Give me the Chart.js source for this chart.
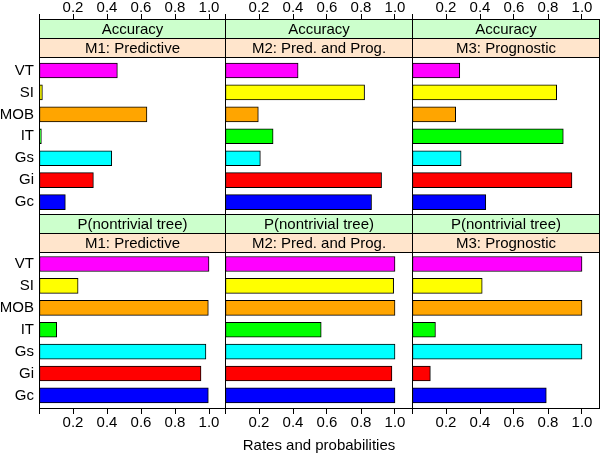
<!DOCTYPE html>
<html><head><meta charset="utf-8">
<script src="https://cdn.jsdelivr.net/npm/chart.js@4.4.1/dist/chart.umd.min.js"></script>
<style>
html,body{margin:0;padding:0;background:#fff;}
#wrap{position:relative;width:600px;height:453px;overflow:hidden;background:#fff;}
canvas{position:absolute;}
</style></head><body><div id="wrap"></div>
<script>
// ---------- data ----------
const categories = ['VT', 'SI', 'MOB', 'IT', 'Gs', 'Gi', 'Gc'];
const barColors = ['#FF00FF', '#FFFF00', '#FFA500', '#00FF00', '#00FFFF', '#FF0000', '#0000FF'];
const measureLabels = ['Accuracy', 'P(nontrivial tree)'];
const modelLabels = ['M1: Predictive', 'M2: Pred. and Prog.', 'M3: Prognostic'];

const accuracyM1 = [0.461, 0.020, 0.635, 0.014, 0.428, 0.320, 0.155];
const accuracyM2 = [0.430, 0.821, 0.196, 0.283, 0.208, 0.921, 0.862];
const accuracyM3 = [0.281, 0.851, 0.257, 0.890, 0.289, 0.941, 0.434];
const nontrivM1  = [1.000, 0.230, 0.996, 0.104, 0.982, 0.953, 0.996];
const nontrivM2  = [1.000, 0.992, 1.000, 0.566, 1.000, 0.982, 1.000];
const nontrivM3  = [1.000, 0.413, 1.000, 0.138, 1.000, 0.108, 0.790];

const tickValues = [0, 0.2, 0.4, 0.6, 0.8, 1.0];
const tickLabels = ['', '0.2', '0.4', '0.6', '0.8', '1.0'];
const axisTitle = 'Rates and probabilities';

const panelValues = [
  [accuracyM1, accuracyM2, accuracyM3],
  [nontrivM1, nontrivM2, nontrivM3]
];

// ---------- layout ----------
const FONT = '"Liberation Sans", Arial, sans-serif';
const colEdges = [39, 225, 412, 599];
const pxPerUnit = 170;
const stripH = 19;
const rows = [
  { canvasTop: 0,   canvasH: 215, axisPos: 'top',    axisH: 19, tickLH: 0.8, yMin: -1.35,  yMax: 7.59 },
  { canvasTop: 214, canvasH: 239, axisPos: 'bottom', axisH: 44, tickLH: 1.2, yMin: -1.283, yMax: 7.62 }
];

const panelPlugin = {
  id: 'panelStrips',
  beforeDatasetsDraw(chart, args, o) {
    const { ctx, chartArea: a } = chart;
    const w = a.right - a.left;
    ctx.save();
    ctx.fillStyle = '#CCFFCC';
    ctx.fillRect(a.left, a.top, w, stripH);
    ctx.fillStyle = '#FFE5CC';
    ctx.fillRect(a.left, a.top + stripH, w, stripH);
    ctx.fillStyle = '#000';
    ctx.font = '15px ' + FONT;
    ctx.textAlign = 'center';
    ctx.textBaseline = 'middle';
    const cx = (a.left + a.right) / 2;
    ctx.fillText(o.top, cx, a.top + stripH / 2 + 1);
    ctx.fillText(o.bottom, cx, a.top + stripH * 1.5 + 1);
    ctx.restore();
  },
  afterDraw(chart) {
    const { ctx, chartArea: a } = chart;
    ctx.save();
    ctx.strokeStyle = '#000';
    ctx.lineWidth = 1;
    ctx.strokeRect(a.left + 0.5, a.top + 0.5, a.right - a.left - 1, a.bottom - a.top - 1);
    ctx.beginPath();
    ctx.moveTo(a.left, a.top + stripH + 0.5); ctx.lineTo(a.right, a.top + stripH + 0.5);
    ctx.moveTo(a.left, a.top + 2 * stripH + 0.5); ctx.lineTo(a.right, a.top + 2 * stripH + 0.5);
    ctx.stroke();
    ctx.restore();
  }
};

const wrap = document.getElementById('wrap');

rows.forEach((row, r) => {
  for (let c = 0; c < 3; c++) {
    const left = c === 0 ? 0 : colEdges[c];
    const right = colEdges[c + 1] + 1;
    const width = right - left;
    const canvas = document.createElement('canvas');
    canvas.width = width; canvas.height = row.canvasH;
    canvas.style.left = left + 'px'; canvas.style.top = row.canvasTop + 'px';
    canvas.style.width = width + 'px'; canvas.style.height = row.canvasH + 'px';
    wrap.appendChild(canvas);

    const plotW = right - colEdges[c];
    const values = panelValues[r][c];

    new Chart(canvas, {
      type: 'bar',
      data: {
        datasets: [{
          data: values.map((v, i) => ({ x: v, y: i + 1 })),
          backgroundColor: barColors,
          borderColor: '#000',
          borderWidth: 1,
          borderSkipped: false,
          barThickness: 15
        }]
      },
      options: {
        indexAxis: 'y',
        responsive: false,
        animation: false,
        devicePixelRatio: 1,
        layout: { padding: 0 },
        plugins: {
          legend: { display: false },
          tooltip: { enabled: false },
          panelStrips: { top: measureLabels[r], bottom: modelLabels[c] }
        },
        scales: {
          x: {
            type: 'linear',
            position: row.axisPos,
            offset: false,
            min: 0,
            max: plotW / pxPerUnit,
            afterBuildTicks: s => { s.ticks = tickValues.map(v => ({ value: v })); },
            afterFit: s => { s.height = row.axisH; s.paddingLeft = 0; s.paddingRight = 0; },
            ticks: {
              autoSkip: false, maxRotation: 0, minRotation: 0,
              color: '#000', font: { family: FONT, size: 15, lineHeight: row.tickLH }, padding: 0,
              callback: (v, i) => tickLabels[i]
            },
            grid: { display: true, offset: false, drawOnChartArea: false, drawTicks: true, tickLength: 5, color: '#000', lineWidth: 1 },
            border: { display: false },
            title: {
              display: r === 1 && c === 1,
              text: axisTitle,
              color: '#000',
              font: { family: FONT, size: 15, lineHeight: 1 },
              padding: { top: 0, bottom: 0 }
            }
          },
          y: {
            type: 'linear',
            display: c === 0,
            reverse: true,
            offset: false,
            bounds: 'data',
            min: row.yMin,
            max: row.yMax,
            afterBuildTicks: s => { s.ticks = categories.map((_, i) => ({ value: i + 1 })); },
            afterFit: s => { if (c === 0) s.width = 39; s.paddingTop = 0; s.paddingBottom = 0; },
            ticks: {
              autoSkip: false, color: '#000', font: { family: FONT, size: 15 }, padding: 5,
              callback: (v, i) => categories[i]
            },
            grid: { display: false, drawTicks: false, tickLength: 0, offset: false },
            border: { display: false }
          }
        }
      },
      plugins: [panelPlugin]
    });
  }
});
</script>
</body></html>
